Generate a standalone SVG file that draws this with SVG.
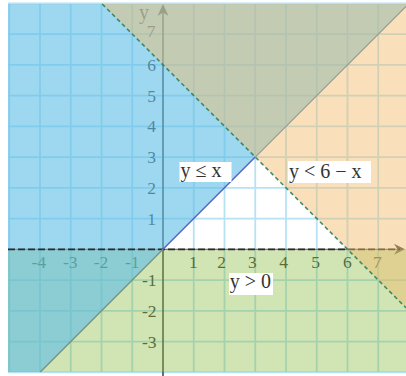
<svg xmlns="http://www.w3.org/2000/svg" width="406" height="376" viewBox="0 0 406 376">
<defs>
<style>
.grid line{stroke:#b6e2f4;stroke-width:1.8}
.tick{font-family:"Liberation Serif","Times New Roman",serif;font-size:17.5px;fill:#383838}
.tx{text-anchor:middle}
.ty{text-anchor:end}
.lbl{font-family:"Liberation Serif","Times New Roman",serif;font-size:20px;fill:#333}
.box{fill:#fff}
.axis{stroke:#3c3c3c;stroke-width:1.5;fill:none}
</style>
</defs>
<rect width="406" height="376" fill="#fff"/>
<g id="grid" class="grid">
<line x1="9.25" y1="3.3" x2="9.25" y2="372.3"/>
<line x1="40" y1="3.3" x2="40" y2="372.3"/>
<line x1="70.75" y1="3.3" x2="70.75" y2="372.3"/>
<line x1="101.5" y1="3.3" x2="101.5" y2="372.3"/>
<line x1="132.25" y1="3.3" x2="132.25" y2="372.3"/>
<line x1="193.75" y1="3.3" x2="193.75" y2="372.3"/>
<line x1="224.5" y1="3.3" x2="224.5" y2="372.3"/>
<line x1="255.25" y1="3.3" x2="255.25" y2="372.3"/>
<line x1="286" y1="3.3" x2="286" y2="372.3"/>
<line x1="316.75" y1="3.3" x2="316.75" y2="372.3"/>
<line x1="347.5" y1="3.3" x2="347.5" y2="372.3"/>
<line x1="378.25" y1="3.3" x2="378.25" y2="372.3"/>
<line x1="8" y1="3.3" x2="406" y2="3.3"/>
<line x1="8" y1="34.05" x2="406" y2="34.05"/>
<line x1="8" y1="64.8" x2="406" y2="64.8"/>
<line x1="8" y1="95.55" x2="406" y2="95.55"/>
<line x1="8" y1="126.3" x2="406" y2="126.3"/>
<line x1="8" y1="157.05" x2="406" y2="157.05"/>
<line x1="8" y1="187.8" x2="406" y2="187.8"/>
<line x1="8" y1="218.55" x2="406" y2="218.55"/>
<line x1="8" y1="280.05" x2="406" y2="280.05"/>
<line x1="8" y1="310.8" x2="406" y2="310.8"/>
<line x1="8" y1="341.55" x2="406" y2="341.55"/>
<line x1="8" y1="372.3" x2="406" y2="372.3"/>
</g>
<g id="ticks" class="tick">
<text class="tx" x="38.7" y="268">-4</text>
<text class="tx" x="70.3" y="268">-3</text>
<text class="tx" x="101" y="268">-2</text>
<text class="tx" x="132.3" y="268">-1</text>
<text class="tx" x="193.3" y="268">1</text>
<text class="tx" x="221.5" y="268">2</text>
<text class="tx" x="252.3" y="268">3</text>
<text class="tx" x="283.7" y="268">4</text>
<text class="tx" x="315.7" y="268">5</text>
<text class="tx" x="347.3" y="268">6</text>
<text class="tx" x="377.3" y="268">7</text>
<text class="ty" x="155.5" y="36.7">7</text>
<text class="ty" x="156" y="70.8">6</text>
<text class="ty" x="156" y="101.5">5</text>
<text class="ty" x="156" y="132.3">4</text>
<text class="ty" x="156" y="163">3</text>
<text class="ty" x="156" y="193.8">2</text>
<text class="ty" x="156" y="224.5">1</text>
<text class="ty" x="156.5" y="285.5">-1</text>
<text class="ty" x="156.5" y="316.8">-2</text>
<text class="ty" x="156.5" y="347.5">-3</text>
<text x="139" y="19" style="font-size:20px">y</text>
</g>
<g id="axes">
<line class="axis" x1="8" y1="249.3" x2="398" y2="249.3" style="stroke:#6a6a6a;stroke-width:1.2"/>
<path d="M405,249.3 L394,243.8 L397.5,249.3 L394,254.8 Z" fill="#4a4a4a"/>
<line class="axis" x1="163" y1="376" x2="163" y2="12"/>
<path d="M163,4 L168.5,16 L163,12.5 L157.5,16 Z" fill="#3c3c3c"/>
</g>
<g id="shade-y-gt-0">
<polygon points="8,249.3 406,249.3 406,372 8,372" fill="rgb(137,187,67)" fill-opacity="0.4"/>
</g>
<g id="shade-y-le-x">
<polygon points="8,4 406,4 406,6.3 40.3,372 8,372" fill="rgb(93,190,230)" fill-opacity="0.6"/>
</g>
<g id="connectors">
<line id="line-y0" x1="8" y1="249.3" x2="400" y2="249.3" stroke="#2a2a2a" stroke-width="1.8" stroke-dasharray="7 3"/>
</g>
<g id="shade-y-lt-6-x">
<polygon points="102.2,4 406,4 406,307.8" fill="rgb(242,188,107)" fill-opacity="0.46"/>
</g>
<g id="boundary-lines">
<line x1="102.2" y1="4" x2="406" y2="307.8" stroke="#2a8262" stroke-width="1.6" stroke-dasharray="4 3" stroke-opacity="0.9"/>
<line x1="163" y1="249.3" x2="255.25" y2="157.05" stroke="#5560c8" stroke-width="1.5"/>
<line x1="255.25" y1="157.05" x2="406" y2="6.3" stroke="#9a9a8c" stroke-width="1.2"/>
<line x1="163" y1="249.3" x2="40.3" y2="372" stroke="#7c907c" stroke-width="1.3"/>
</g>
<g id="label-y-le-x">
<rect class="box" x="179.5" y="162" width="52" height="20"/>
<text class="lbl" x="180.5" y="177">y ≤ x</text>
</g>
<g id="label-y-lt-6-x">
<rect class="box" x="288" y="161" width="83" height="22"/>
<text class="lbl" x="289" y="177.5">y &lt; 6 − x</text>
</g>
<g id="label-y-gt-0">
<rect class="box" x="229" y="273" width="44" height="22"/>
<text class="lbl" x="229.7" y="287.5">y &gt; 0</text>
</g>
</svg>
